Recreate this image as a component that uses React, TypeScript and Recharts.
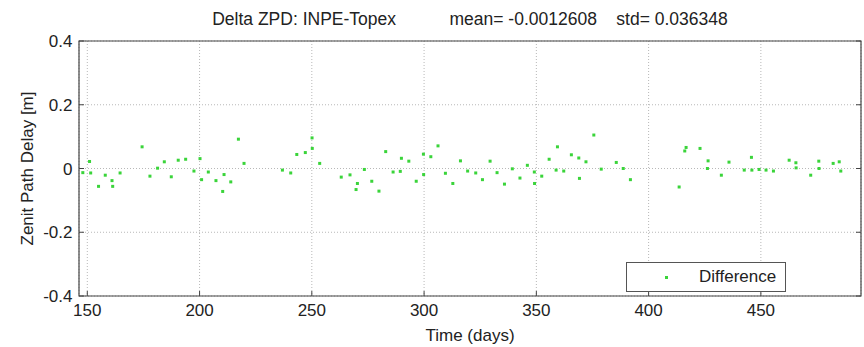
import { ScatterChart, Scatter, XAxis, YAxis, CartesianGrid, ReferenceArea, Legend } from 'recharts'

// day of year and INPE - Topex zenith delay difference [m]
const days = [
  148, 151, 151.5, 155, 158, 161, 161.3, 164.6, 174.4, 177.9, 181.3, 184.3, 187.4, 190.5, 193.8, 197.5,
  200.2, 200.9, 203.9, 207.3, 210.3, 210.9, 213.9, 217.3, 219.8, 236.9, 240.6, 243.3, 247.1, 250.1,
  250.2, 253.5, 263.1, 267, 269.7, 270.3, 273.4, 276.7, 279.9, 282.9, 286.2, 289.4, 289.9, 293.2,
  296.5, 299.7, 299.8, 303, 306.2, 309.5, 312.8, 316.2, 319.4, 323, 326, 329.4, 332.5, 335.8, 339.3,
  342.7, 346, 349.1, 349.2, 352.4, 355.7, 358.8, 359.4, 362.2, 365.6, 368.9, 369.2, 372.1, 375.6,
  378.9, 385.6, 388.7, 391.9, 413.6, 416.1, 416.7, 422.9, 426.2, 426.5, 432.4, 435.8, 442.6, 445.8,
  446, 449.2, 452.3, 455.6, 462.6, 465.6, 465.7, 472.2, 475.8, 475.9, 482.2, 484.9, 485.6,
]
const diffs = [
  -0.013, 0.022, -0.014, -0.056, -0.021, -0.038, -0.056, -0.014, 0.068, -0.024, 0.001, 0.021, -0.026, 0.026, 0.029, -0.008,
  0.031, -0.035, -0.011, -0.038, -0.072, -0.019, -0.042, 0.092, 0.016, -0.005, -0.014, 0.044, 0.05, 0.096,
  0.063, 0.016, -0.027, -0.02, -0.066, -0.047, -0.003, -0.04, -0.071, 0.053, -0.011, -0.009, 0.032, 0.023,
  -0.04, 0.045, -0.019, 0.037, 0.071, -0.015, -0.047, 0.024, -0.008, -0.014, -0.035, 0.023, -0.013, -0.049, -0.001,
  -0.03, 0.01, -0.011, -0.047, -0.024, 0.029, -0.005, 0.068, -0.008, 0.043, 0.033, -0.031, 0.021, 0.105,
  -0.002, 0.019, 0.0, -0.035, -0.058, 0.055, 0.066, 0.063, 0.0, 0.024, -0.021, 0.02, -0.005, 0.035,
  -0.005, -0.003, -0.005, -0.008, 0.026, 0.018, 0.002, -0.021, 0.023, 0.0, 0.016, 0.021, -0.008,
]
const xTicks = [150, 200, 250, 300, 350, 400, 450]
const yTicks = [-0.4, -0.2, 0, 0.2, 0.4]
const xDomain = [146.3, 494.6]
const yDomain = [-0.4, 0.4]

const data = days.map((d, i) => ({ day: d, diff: diffs[i] }))

const font = '"Liberation Sans", Arial, sans-serif'
const green = '#3ad43a'

const Dot = (props: any) => (
  <rect x={props.cx - 1.5} y={props.cy - 1.5} width={3} height={3} fill={green} />
)

const LegendBox = () => (
  <div
    style={{
      width: 158, height: 28, border: '1px solid #555', background: '#fff',
      position: 'relative', fontFamily: font, fontSize: 17, color: '#222',
    }}
  >
    <div style={{ position: 'absolute', left: 38, top: 13, width: 3, height: 3, background: green }} />
    <span style={{ position: 'absolute', left: 72, top: 4, lineHeight: '20px' }}>Difference</span>
  </div>
)

const hidden = () => <g />

export default function App() {
  return (
    <div style={{ position: 'absolute', left: 0, top: 0, width: 864, height: 347, background: '#fff' }}>
      <div
        style={{
          position: 'absolute', left: 79, top: 11, width: 782, textAlign: 'center',
          fontFamily: font, fontSize: 17.5, lineHeight: '17px', color: '#222', whiteSpace: 'pre',
        }}
      >
        {'Delta ZPD: INPE-Topex           mean= -0.0012608    std= 0.036348'}
      </div>
      <ScatterChart width={864} height={347} margin={{ top: 40, right: 2, bottom: 0, left: 0 }}>
        <CartesianGrid stroke="#b8b8b8" strokeDasharray="1 2" />
        <XAxis
          type="number" dataKey="day" domain={xDomain} ticks={xTicks} allowDataOverflow
          height={51} axisLine={false} tickSize={-5} tickMargin={13} stroke="#444"
          tick={{ fill: '#222', fontSize: 17, fontFamily: font }}
          label={{ value: 'Time (days)', position: 'insideBottom', offset: 6, fill: '#222', fontSize: 17, fontFamily: font }}
        />
        <XAxis
          xAxisId="top" orientation="top" type="number" domain={xDomain} ticks={xTicks} allowDataOverflow
          height={1} axisLine={false} tickSize={-5} stroke="#444" tick={hidden}
        />
        <YAxis
          type="number" dataKey="diff" domain={yDomain} ticks={yTicks} allowDataOverflow
          width={79} axisLine={false} tickSize={-5} tickMargin={11.5} stroke="#444"
          tick={{ fill: '#222', fontSize: 17, fontFamily: font }}
          label={{ value: 'Zenit Path Delay [m]', angle: -90, position: 'insideLeft', offset: 27, fill: '#222', fontSize: 17, fontFamily: font, style: { textAnchor: 'middle' } }}
        />
        <YAxis
          yAxisId="right" orientation="right" type="number" domain={yDomain} ticks={yTicks} allowDataOverflow
          width={1} axisLine={false} tickSize={-5} stroke="#444" tick={hidden}
        />
        <ReferenceArea x1={xDomain[0]} x2={xDomain[1]} y1={yDomain[0]} y2={yDomain[1]} fill="none" stroke="#444" strokeWidth={1.2} />
        <Scatter name="Difference" data={data} shape={Dot} isAnimationActive={false} />
        <Legend
          content={LegendBox} layout="vertical" align="center" verticalAlign="middle"
          wrapperStyle={{ position: 'absolute', left: 626, top: 262, width: 'auto' }}
        />
      </ScatterChart>
    </div>
  )
}
